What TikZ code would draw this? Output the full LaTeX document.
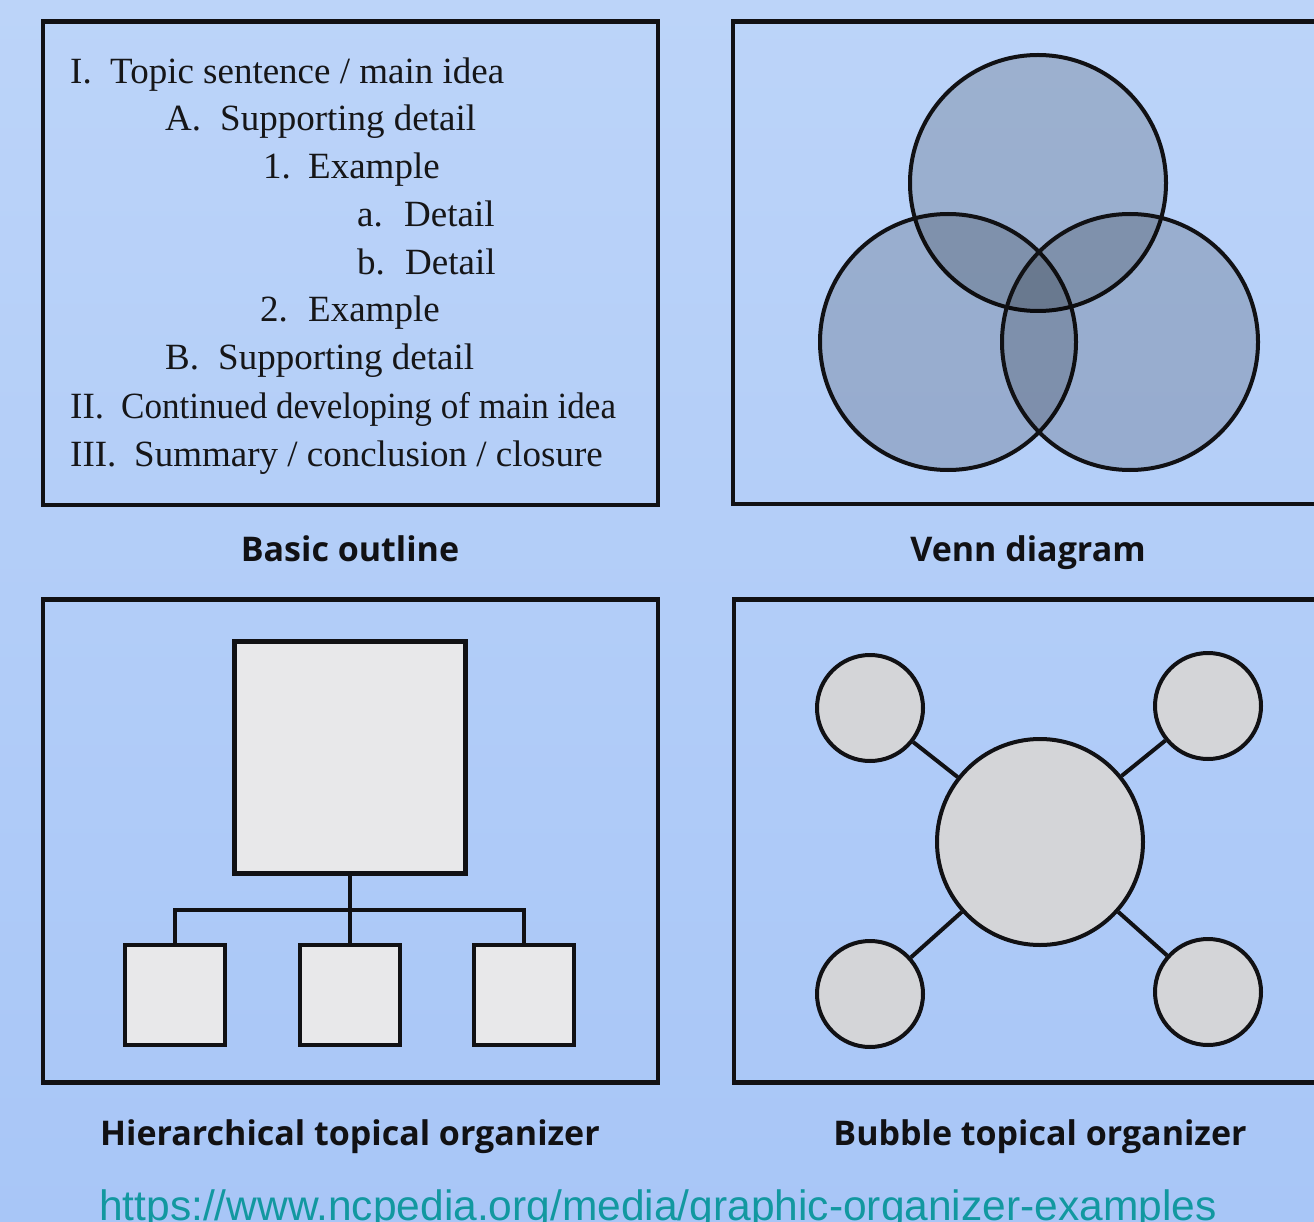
\documentclass[tikz,border=0pt]{standalone}
\usepackage{fontspec}
\newfontfamily\outlinefont{Liberation Serif}
\newfontfamily\captionfont{Open Sans}
\newfontfamily\urlfont{Liberation Sans}
\definecolor{bgtop}{RGB}{188,212,249}
\definecolor{bgbot}{RGB}{168,198,247}
\definecolor{urlcol}{RGB}{18,152,160}
\definecolor{hboxfill}{RGB}{232,232,234}
\definecolor{bubfill}{RGB}{212,213,216}
\definecolor{inkc}{RGB}{17,17,20}
\definecolor{txtc}{RGB}{22,22,24}
\tikzset{
  frame/.style={draw=inkc, line width=4.8pt},
  outl/.style={anchor=base west, inner sep=0pt, text=txtc, font=\outlinefont\fontsize{37}{40}\selectfont},
  capt/.style={anchor=base, inner sep=0pt, text=inkc, font=\captionfont\bfseries\fontsize{34}{38}\selectfont},
  venncirc/.style={circle, draw=inkc, line width=4pt, fill=black, fill opacity=0.165, minimum size=256pt, inner sep=0pt},
  hbox/.style={rectangle, draw=inkc, line width=4.5pt, fill=hboxfill, inner sep=0pt},
  hline/.style={draw=inkc, line width=4.5pt},
  bubble/.style={circle, draw=inkc, line width=4pt, fill=bubfill, inner sep=0pt},
  bline/.style={draw=inkc, line width=4pt}
}
\begin{document}
\begin{tikzpicture}[x=1pt,y=-1pt]
\useasboundingbox (0,0) rectangle (1314,1222);
\clip (0,0) rectangle (1314,1222);
\shade[top color=bgtop,bottom color=bgbot] (-5,-5) rectangle (1320,1230);

% frames
\draw[frame] (43,21.5) rectangle (658,505);
\draw[frame] (733,21.5) rectangle (1340,504);
\draw[frame] (43,599.5) rectangle (658,1082.5);
\draw[frame] (734,599.5) rectangle (1340,1082.5);

% outline
\node[outl] (o1l) at (70,84) {I.};
\node[outl] (o1t) at (110,84) {Topic sentence / main idea};
\node[outl] (o2l) at (165,131) {A.};
\node[outl] (o2t) at (220,131) {Supporting detail};
\node[outl] (o3l) at (263,179) {1.};
\node[outl] (o3t) at (308,179) {Example};
\node[outl] (o4l) at (357,227) {a.};
\node[outl] (o4t) at (404,227) {Detail};
\node[outl] (o5l) at (357,275) {b.};
\node[outl] (o5t) at (405,275) {Detail};
\node[outl] (o6l) at (260,322) {2.};
\node[outl] (o6t) at (308,322) {Example};
\node[outl] (o7l) at (165,370) {B.};
\node[outl] (o7t) at (218,370) {Supporting detail};
\node[outl] (o8l) at (70,418) {II.};
\node[outl] (o8t) at (121,418) {\scalebox{0.948}[1]{Continued developing of main idea}};
\node[outl] (o9l) at (70,466) {III.};
\node[outl] (o9t) at (134,466) {Summary / conclusion / closure};

% venn
\node[venncirc] (vtop) at (1038,183) {};
\node[venncirc] (vleft) at (948,342) {};
\node[venncirc] (vright) at (1130,342) {};

% hierarchy
\node[hbox, minimum width=231pt, minimum height=232pt] (htop) at (350,757.5) {};
\node[hbox, minimum width=100pt, minimum height=100pt] (hl) at (175,995) {};
\node[hbox, minimum width=100pt, minimum height=100pt] (hm) at (350,995) {};
\node[hbox, minimum width=100pt, minimum height=100pt] (hr) at (524,995) {};
\coordinate (hbar) at (350,910);
\draw[hline] (htop.south) -- (hbar);
\draw[hline] (hl.north) |- (hbar) -| (hr.north);
\draw[hline] (hbar) -- (hm.north);

% bubbles
\node[bubble, minimum size=206pt] (bc) at (1040,842) {};
\node[bubble, minimum size=106pt] (btl) at (870,708) {};
\node[bubble, minimum size=106pt] (btr) at (1208,706) {};
\node[bubble, minimum size=106pt] (bbl) at (870,994) {};
\node[bubble, minimum size=106pt] (bbr) at (1208,992) {};
\draw[bline] (bc) -- (btl);
\draw[bline] (bc) -- (btr);
\draw[bline] (bc) -- (bbl);
\draw[bline] (bc) -- (bbr);

% captions
\node[capt] (c1) at (350,561) {Basic outline};
\node[capt] (c2) at (1028,561) {Venn diagram};
\node[capt] (c3) at (350,1145) {Hierarchical topical organizer};
\node[capt] (c4) at (1040,1145) {Bubble topical organizer};

% url
\node[anchor=base west, inner sep=0pt, text=urlcol, font=\urlfont\fontsize{42.5}{46}\selectfont] (url) at (99,1220) {https://www.ncpedia.org/media/graphic-organizer-examples};
\end{tikzpicture}
\end{document}
